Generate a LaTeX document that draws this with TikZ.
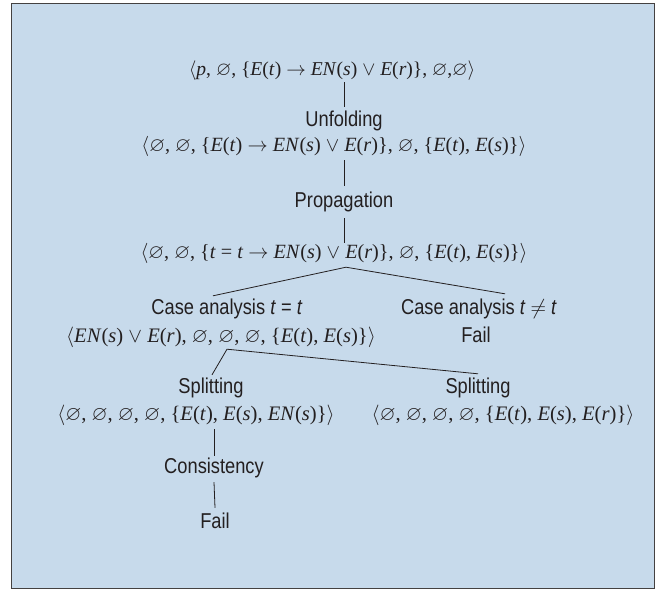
\RequirePackage{fix-cm}
\documentclass[tikz,border=0pt]{standalone}
\usepackage{amssymb}
\usepackage{fontspec}
\setmainfont{Liberation Serif}
\newfontfamily\labfont[FakeStretch=0.85]{Liberation Sans}
\definecolor{bg}{HTML}{C7DAEB}
\definecolor{ink}{HTML}{231F20}
\newcommand\mi[1]{\textit{#1}}
\newcommand\es{$\varnothing$}
\begin{document}
\begin{tikzpicture}[x=1pt,y=-1pt,
  lab/.style={font=\labfont\fontsize{21.5}{24}\selectfont, text=ink, inner sep=0pt, text height=14pt, text depth=4pt},
  tup/.style={font=\fontsize{20.6}{24}\selectfont, text=ink, inner sep=0pt, text height=14pt, text depth=4pt},
  edge/.style={draw=ink, line width=0.8pt}]
\useasboundingbox (0,0) rectangle (663,590);
\draw[fill=bg, draw=ink!85, line width=1pt] (11,3) rectangle (654,588);

\node[tup, font=\fontsize{19.6}{24}\selectfont] (n1) at (332,70) {$\langle$\mi{p}, \es, \{\mi{E}(\mi{t}) $\rightarrow$ \mi{EN}(\mi{s}) $\vee$ \mi{E}(\mi{r})\}, \es,\es$\rangle$};
\node[lab] (unf) at (344,121) {Unfolding};
\node[tup, font=\fontsize{20.2}{24}\selectfont] (n2) at (334,146) {$\langle$\es, \es, \{\mi{E}(\mi{t}) $\rightarrow$ \mi{EN}(\mi{s}) $\vee$ \mi{E}(\mi{r})\}, \es, \{\mi{E}(\mi{t}), \mi{E}(\mi{s})\}$\rangle$};
\node[lab] (prop) at (344,202) {Propagation};
\node[tup, font=\fontsize{20.2}{24}\selectfont] (n3) at (334,253) {$\langle$\es, \es, \{\mi{t} = \mi{t} $\rightarrow$ \mi{EN}(\mi{s}) $\vee$ \mi{E}(\mi{r})\}, \es, \{\mi{E}(\mi{t}), \mi{E}(\mi{s})\}$\rangle$};
\node[lab] (ca1) at (227,309) {Case analysis \mi{t} = \mi{t}};
\node[lab] (ca2) at (479,309) {Case analysis \mi{t} $\neq$ \mi{t}};
\node[tup] (n4) at (221,337) {$\langle$\mi{EN}(\mi{s}) $\vee$ \mi{E}(\mi{r}), \es, \es, \es, \{\mi{E}(\mi{t}), \mi{E}(\mi{s})\}$\rangle$};
\node[lab] (fail1) at (476,337) {Fail};
\node[lab] (sp1) at (211,388) {Splitting};
\node[lab] (sp2) at (478,388) {Splitting};
\node[tup] (n5) at (196,415) {$\langle$\es, \es, \es, \es, \{\mi{E}(\mi{t}), \mi{E}(\mi{s}), \mi{EN}(\mi{s})\}$\rangle$};
\node[tup] (n6) at (503,415) {$\langle$\es, \es, \es, \es, \{\mi{E}(\mi{t}), \mi{E}(\mi{s}), \mi{E}(\mi{r})\}$\rangle$};
\node[lab] (cons) at (214,468) {Consistency};
\node[lab] (fail2) at (215,523) {Fail};

\draw[edge] (n1.south -| unf.north) ++(0,3) -- ([yshift=5pt]unf.north);
\draw[edge] (n2.south -| prop.north) ++(0,5) -- ([yshift=7pt]prop.north);
\draw[edge] (prop.south) ++(0,7) -- ([yshift=1pt]n3.north -| prop.south);
\draw[edge] ([xshift=-14pt,yshift=4pt]ca1.north) -- ([shift={(12pt,-5pt)}]n3.south) -- ([shift={(26pt,6pt)}]ca2.north);
\draw[edge] ([shift={(1pt,4pt)}]sp1.north) -- ([shift={(6pt,-3pt)}]n4.south) -- ([yshift=5pt]sp2.north);
\draw[edge] (n5.south -| cons.north) ++(0,5) -- ([yshift=3pt]cons.north);
\draw[edge] (cons.south) ++(0,5) -- ([yshift=6pt]fail2.north);
\end{tikzpicture}
\end{document}
